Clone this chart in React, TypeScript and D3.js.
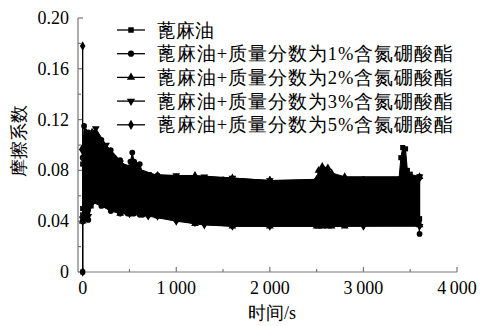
import * as d3 from 'd3';

// legend labels, one per series
const seriesNames = [
  '蓖麻油',
  '蓖麻油+质量分数为1%含氮硼酸酯',
  '蓖麻油+质量分数为2%含氮硼酸酯',
  '蓖麻油+质量分数为3%含氮硼酸酯',
  '蓖麻油+质量分数为5%含氮硼酸酯',
];
const seriesSymbols = [d3.symbolSquare, d3.symbolCircle, d3.symbolTriangle, 'down', d3.symbolDiamond];

// each trace oscillates fast, so it is kept as its band: time (s), upper and lower friction coefficient
const time0 = [0, 30, 90, 200, 400, 700, 1000, 1500, 2000, 2500, 3000, 3380, 3400, 3420, 3450, 3470, 3500, 3600];
const hi0 = [0.085, 0.1, 0.104, 0.098, 0.082, 0.075, 0.074, 0.072, 0.071, 0.071, 0.072, 0.073, 0.09, 0.098, 0.097, 0.08, 0.077, 0.075];
const lo0 = [0.045, 0.048, 0.052, 0.058, 0.047, 0.045, 0.043, 0.041, 0.04, 0.04, 0.04, 0.041, 0.041, 0.041, 0.041, 0.041, 0.041, 0.042];

const time1 = [0, 15, 60, 100, 200, 300, 400, 480, 510, 530, 550, 610, 640, 800, 1000, 1500, 2000, 2500, 3000, 3590];
const hi1 = [0.09, 0.115, 0.11, 0.108, 0.104, 0.096, 0.088, 0.082, 0.087, 0.094, 0.087, 0.085, 0.078, 0.076, 0.075, 0.073, 0.072, 0.072, 0.073, 0.074];
const lo1 = [0.04, 0.042, 0.041, 0.055, 0.052, 0.048, 0.046, 0.046, 0.046, 0.046, 0.046, 0.045, 0.045, 0.044, 0.041, 0.039, 0.038, 0.038, 0.038, 0.04];

const time2 = [0, 40, 100, 200, 400, 800, 1200, 1600, 2000, 2500, 2520, 2560, 2620, 2660, 2800, 3600];
const hi2 = [0.098, 0.108, 0.11, 0.102, 0.086, 0.076, 0.076, 0.074, 0.072, 0.073, 0.08, 0.083, 0.082, 0.078, 0.075, 0.075];
const lo2 = [0.04, 0.042, 0.062, 0.056, 0.046, 0.044, 0.038, 0.036, 0.036, 0.036, 0.036, 0.036, 0.036, 0.036, 0.036, 0.037];

const time3 = [0, 60, 140, 250, 400, 700, 1000, 1300, 1600, 2000, 3000, 3600];
const hi3 = [0.095, 0.108, 0.113, 0.1, 0.086, 0.077, 0.076, 0.075, 0.074, 0.072, 0.073, 0.075];
const lo3 = [0.042, 0.044, 0.062, 0.054, 0.047, 0.044, 0.04, 0.037, 0.036, 0.036, 0.036, 0.036];

const time4 = [0, 50, 150, 300, 500, 800, 1200, 2000, 3000, 3600];
const hi4 = [0.09, 0.104, 0.1, 0.09, 0.078, 0.075, 0.074, 0.072, 0.072, 0.074];
const lo4 = [0.04, 0.045, 0.06, 0.05, 0.046, 0.044, 0.039, 0.037, 0.037, 0.037];

// isolated readings outside the bands: [time, value]
const extra0 = [[0, 0], [0, 0.05]];
const extra1 = [[3590, 0.04], [3600, 0.03]];
const extra4 = [[0, 0], [0, 0.178], [0, 0.09]];

const yTicks = [0, 0.04, 0.08, 0.12, 0.16, 0.2];
const yTickLabels = ['0', '0.04', '0.08', '0.12', '0.16', '0.20'];
const xTicks = [0, 1000, 2000, 3000, 4000];
const xTickLabels = ['0', '1\u2009000', '2\u2009000', '3\u2009000', '4\u2009000'];

const width = 480;
const height = 326;
const serif = 'Liberation Serif';
const axisColor = '#777';

const x = d3.scaleLinear([-50, 4000], [78, 457]);
const y = d3.scaleLinear([0, 0.2], [272, 18]);

const series = [
  { t: time0, hi: hi0, lo: lo0, extra: extra0 },
  { t: time1, hi: hi1, lo: lo1, extra: extra1 },
  { t: time2, hi: hi2, lo: lo2, extra: [] },
  { t: time3, hi: hi3, lo: lo3, extra: [] },
  { t: time4, hi: hi4, lo: lo4, extra: extra4 },
];

const band = d3.area()
  .x((d) => x(d[0]))
  .y0((d) => y(d[2]))
  .y1((d) => y(d[1]));
const line = d3.line().x((d) => x(d[0])).y((d) => y(d[1]));

const symbolPath = (kind, size) => d3.symbol(kind === 'down' ? d3.symbolTriangle : kind, size)();
const symbolRotate = (kind) => (kind === 'down' ? ' rotate(180)' : '');

const App = () => {
  const minorY = d3.range(0, 0.2001, 0.02);
  const minorX = d3.range(0, 4001, 500);

  return (
    <svg width={width} height={height} viewBox={`0 0 ${width} ${height}`}
      style={{ position: 'absolute', left: 0, top: 0, background: '#fff' }}>
      {/* axes */}
      <g stroke={axisColor} strokeWidth={1.2}>
        <line x1={78} x2={78} y1={y(0.2)} y2={y(0)} />
        <line x1={78} x2={457} y1={y(0)} y2={y(0)} />
        {minorY.map((v, i) => (
          <line key={'y' + i} x1={78} x2={78 + (i % 2 === 0 ? 5 : 3)} y1={y(v)} y2={y(v)} />
        ))}
        {minorX.map((v, i) => (
          <line key={'x' + i} x1={x(v)} x2={x(v)} y1={y(0)} y2={y(0) - (i % 2 === 0 ? 5 : 3)} />
        ))}
      </g>
      <g fontFamily={serif} fontSize={18}>
        {yTicks.map((d, i) => (
          <text key={'yt' + i} x={69} y={y(d) + 6} textAnchor="end">{yTickLabels[i]}</text>
        ))}
        {xTicks.map((d, i) => (
          <text key={'xt' + i} x={x(d)} y={294} textAnchor="middle">{xTickLabels[i]}</text>
        ))}
        <text transform="translate(25,141) rotate(-90)" textAnchor="middle">摩擦系数</text>
        <text x={272} y={319} textAnchor="middle">时间/s</text>
      </g>

      {/* bands, traces and markers */}
      {series.map((s, k) => {
        const rows = s.t.map((t, i) => [t, s.hi[i], s.lo[i]]);
        const pts = rows.flatMap((r) => [[r[0], r[1]], [r[0], r[2]]]).concat(s.extra);
        const kind = seriesSymbols[k];
        const m = symbolPath(kind, 26);
        return (
          <g key={'s' + k}>
            <path d={band(rows)} fill="#000" stroke="#000" strokeWidth={1} />
            {s.extra.length > 0 && (
              <path d={line(s.extra)} fill="none" stroke="#000" strokeWidth={1.3} />
            )}
            {pts.map((d, i) => (
              <path key={i} d={m} fill="#000"
                transform={`translate(${x(d[0])},${y(d[1])})${symbolRotate(kind)}`} />
            ))}
          </g>
        );
      })}

      {/* legend */}
      {seriesNames.map((name, i) => {
        const ly = 30 + i * 23.7;
        const kind = seriesSymbols[i];
        return (
          <g key={'l' + i}>
            <line x1={117} x2={145} y1={ly} y2={ly} stroke="#000" strokeWidth={1.3} />
            <path d={symbolPath(kind, 30)} fill="#000" transform={`translate(131,${ly})${symbolRotate(kind)}`} />
            <text x={157} y={ly + 6.5} fontFamily={serif} fontSize={18.5}
              {...(i > 0 ? { textLength: 296, lengthAdjust: 'spacing' } : {})}>
              {name}
            </text>
          </g>
        );
      })}
    </svg>
  );
};

export default App;
